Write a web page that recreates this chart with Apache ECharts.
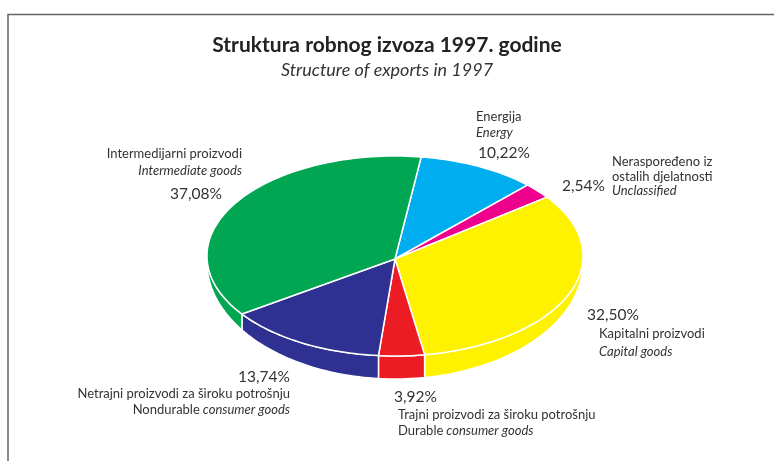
<!DOCTYPE html>
<html>
<head>
<meta charset="utf-8">
<script src="https://cdn.jsdelivr.net/npm/echarts@6/dist/echarts.min.js"></script>
<style>
  html, body { margin: 0; padding: 0; background: #fff; }
  #main { width: 774px; height: 461px; }
</style>
</head>
<body>
<div id="main"></div>
<script>
// slices, clockwise from the top
const sliceNamesHr = ['Energija', 'Neraspoređeno iz\nostalih djelatnosti', 'Kapitalni proizvodi',
  'Trajni proizvodi za široku potrošnju', 'Netrajni proizvodi za široku potrošnju', 'Intermedijarni proizvodi'];
const sliceNamesEn = ['Energy', 'Unclassified', 'Capital goods',
  'Durable consumer goods', 'Nondurable consumer goods', 'Intermediate goods'];
const sliceValues = [10.22, 2.54, 32.50, 3.92, 13.74, 37.08];
const sliceColors = ['#00aeef', '#ec008c', '#fff200', '#ed1c24', '#2e3192', '#00a651'];

const chart = echarts.init(document.getElementById('main'));

const total = sliceValues.reduce((a, b) => a + b, 0);
// pseudo 3d pie geometry
const cx = 395, cy = 256, rx = 188, ry = 100;
const d0 = 6, d1 = 17;      // side height = d0 + d1*sin(angle)
const startDeg = -82;
const textColor = '#333';

function ptTop(deg) {
  const t = deg * Math.PI / 180;
  return [cx + rx * Math.cos(t), cy + ry * Math.sin(t)];
}
function ptBottom(deg) {
  const t = deg * Math.PI / 180;
  const s = Math.sin(t);
  return [cx + rx * Math.cos(t), cy + ry * s + d0 + d1 * Math.max(s, 0)];
}
function arc(a0, a1, fn) {
  const pts = [];
  const n = Math.max(2, Math.ceil(Math.abs(a1 - a0) / 1.5));
  for (let i = 0; i <= n; i++) pts.push(fn(a0 + (a1 - a0) * i / n));
  return pts;
}

function renderItem(params, api) {
  const i = params.dataIndex;
  let before = 0;
  for (let k = 0; k < i; k++) before += sliceValues[k];
  const a0 = startDeg + before / total * 360;
  const a1 = a0 + api.value(0) / total * 360;
  const color = sliceColors[i];
  const children = [];
  // front wall
  const s0 = Math.max(a0, 0), s1 = Math.min(a1, 180);
  if (s1 > s0) {
    const pts = arc(s0, s1, ptTop).concat(arc(s1, s0, ptBottom));
    children.push({
      type: 'polygon',
      shape: { points: pts },
      style: { fill: color, stroke: '#fff', lineWidth: 1.5, lineJoin: 'round' }
    });
  }
  // top face
  const top = [[cx, cy + 3]].concat(arc(a0, a1, ptTop));
  children.push({
    type: 'polygon',
    shape: { points: top },
    style: { fill: color, stroke: '#fff', lineWidth: 1.5, lineJoin: 'round' }
  });
  return { type: 'group', children: children };
}

function pct(v) {
  return v.toFixed(2).replace('.', ',') + '%';
}
function enText(s) {
  return s.replace(/^(Durable|Nondurable) /, '{u|$1} ');
}

// label placement per slice (style only)
const labelLayout = [
  { hr: [476, 117, 'left'], en: [476, 133, 'left'], pct: [478, 153, 'left'] },
  { hr: [612, 169, 'left'], en: [612, 191, 'left'], pct: [562, 186, 'left'] },
  { hr: [599, 334, 'left'], en: [599, 352, 'left'], pct: [587, 315, 'left'] },
  { hr: [398, 415, 'left'], en: [398, 431, 'left'], pct: [394, 397, 'left'] },
  { hr: [290, 394, 'right'], en: [290, 410, 'right'], pct: [290, 377, 'right'] },
  { hr: [242, 154, 'right'], en: [242, 171, 'right'], pct: [196, 194, 'center'] }
];

const labels = [];
sliceValues.forEach((v, i) => {
  const L = labelLayout[i];
  labels.push({
    type: 'text', x: L.hr[0], y: L.hr[1], silent: true,
    style: {
      text: sliceNamesHr[i], align: L.hr[2], verticalAlign: 'middle',
      font: '13px Lato', fill: textColor, lineHeight: 15
    }
  });
  labels.push({
    type: 'text', x: L.en[0], y: L.en[1], silent: true,
    style: {
      text: enText(sliceNamesEn[i]), align: L.en[2], verticalAlign: 'middle',
      font: 'italic 13px Lato', fill: textColor,
      rich: { u: { fontStyle: 'normal', fontSize: 13, fontFamily: 'Lato', fill: textColor } }
    }
  });
  labels.push({
    type: 'text', x: L.pct[0], y: L.pct[1], silent: true,
    style: {
      text: pct(v), align: L.pct[2], verticalAlign: 'middle',
      font: '15.5px Lato', fill: textColor
    }
  });
});

chart.setOption({
  animation: false,
  backgroundColor: '#fff',
  title: {
    text: 'Struktura robnog izvoza 1997. godine',
    subtext: 'Structure of exports in 1997',
    left: 'center',
    top: 30,
    itemGap: 5,
    textStyle: { fontFamily: 'Lato', fontWeight: 'bold', fontSize: 21, color: '#222' },
    subtextStyle: { fontFamily: 'Lato', fontStyle: 'italic', fontSize: 18, color: '#333' }
  },
  graphic: [
    {
      type: 'rect', silent: true,
      shape: { x: 8, y: 14.5, width: 800, height: 500 },
      style: { fill: 'none', stroke: '#666', lineWidth: 1.5 }
    }
  ].concat(labels),
  series: [{
    type: 'custom',
    coordinateSystem: 'none',
    renderItem: renderItem,
    data: sliceValues.map((v, i) => ({ value: v, name: sliceNamesEn[i] }))
  }]
});
</script>
</body>
</html>
